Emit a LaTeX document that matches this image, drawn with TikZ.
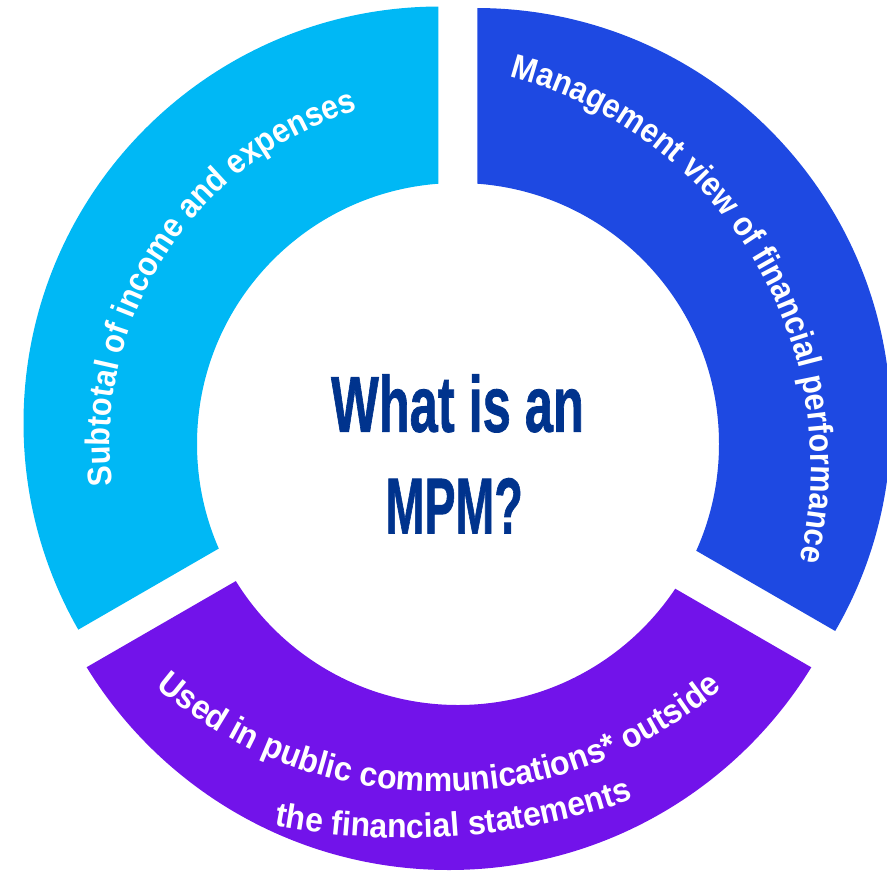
\documentclass[tikz,border=0pt]{standalone}
\usepackage{fontspec}
\usepackage{graphicx}
\usetikzlibrary{decorations.text}
\newfontfamily\ringfont{Liberation Sans Bold}[FakeStretch=0.9]
\newfontfamily\ringfontwide{Liberation Sans Bold}[FakeStretch=0.94]
\newfontfamily\titlefont{Liberation Sans Bold}[FakeBold=1.2]
\definecolor{segcyan}{HTML}{00B8F5}
\definecolor{segblue}{HTML}{1E49E2}
\definecolor{segpurple}{HTML}{7213EA}
\definecolor{titleblue}{HTML}{00338D}
\begin{document}
\begin{tikzpicture}[x=1pt,y=1pt,
  ringtext/.style={decorate, decoration={text along path, text align=center,
      text color=white, text={|\ringfont\fontsize{34}{40}\selectfont|#1}}},
  ringtextwide/.style={decorate, decoration={text along path, text align=center,
      text color=white, text={|\ringfontwide\fontsize{34}{40}\selectfont|#1}}},
  titletext/.style={inner sep=0pt, anchor=base, text=titleblue,
      font=\titlefont\fontsize{79}{90}\selectfont}]
\useasboundingbox (0,0) rectangle (887,-871);
\clip (0,0) rectangle (887,-871);
% cyan segment
\begin{scope}
  \clip (-200,100) -- (438.3,100) -- (438.3,-421.8) -- (-200,-790.3) -- cycle;
  \fill[segcyan, even odd rule] (440,-423) circle[radius=416.5] (458,-444) circle[radius=261];
\end{scope}
% blue segment
\begin{scope}
  \clip (477.3,100) -- (1100,100) -- (1100,-783.9) -- (477.3,-424.3) -- cycle;
  \fill[segblue, even odd rule] (476,-423) circle[radius=415] (458,-444) circle[radius=261];
\end{scope}
% purple segment
\begin{scope}
  \clip (449,-458) -- (-200,-832.7) -- (-200,-1200) -- (1100,-1200) -- (1100,-834.1) -- cycle;
  \fill[segpurple, even odd rule] (449,-445) circle[radius=425] (458,-444) circle[radius=261];
\end{scope}
% curved labels
\path[ringtext={Subtotal of income and expenses}]
  ([shift={(458,-444)}]201.75:348) arc[start angle=201.75, end angle=91.75, radius=348];
\path[ringtext={Management view of financial performance}]
  ([shift={(409,-466)}]85.9:402) arc[start angle=85.9, end angle=-24.1, radius=402];
\path[ringtextwide={Used in public communications* outside}]
  ([shift={(440,-354)}]219.85:438) arc[start angle=219.85, end angle=319.85, radius=438];
\path[ringtextwide={the financial statements}]
  ([shift={(405,-145)}]254.2:693) arc[start angle=254.2, end angle=294.2, radius=693];
% centre title
\node[titletext] (title1) at (457.5,-431.7) {\scalebox{0.64}[1]{What is an}};
\node[titletext] (title2) at (454.2,-533.3) {\scalebox{0.59}[1]{MPM?}};
\end{tikzpicture}
\end{document}
